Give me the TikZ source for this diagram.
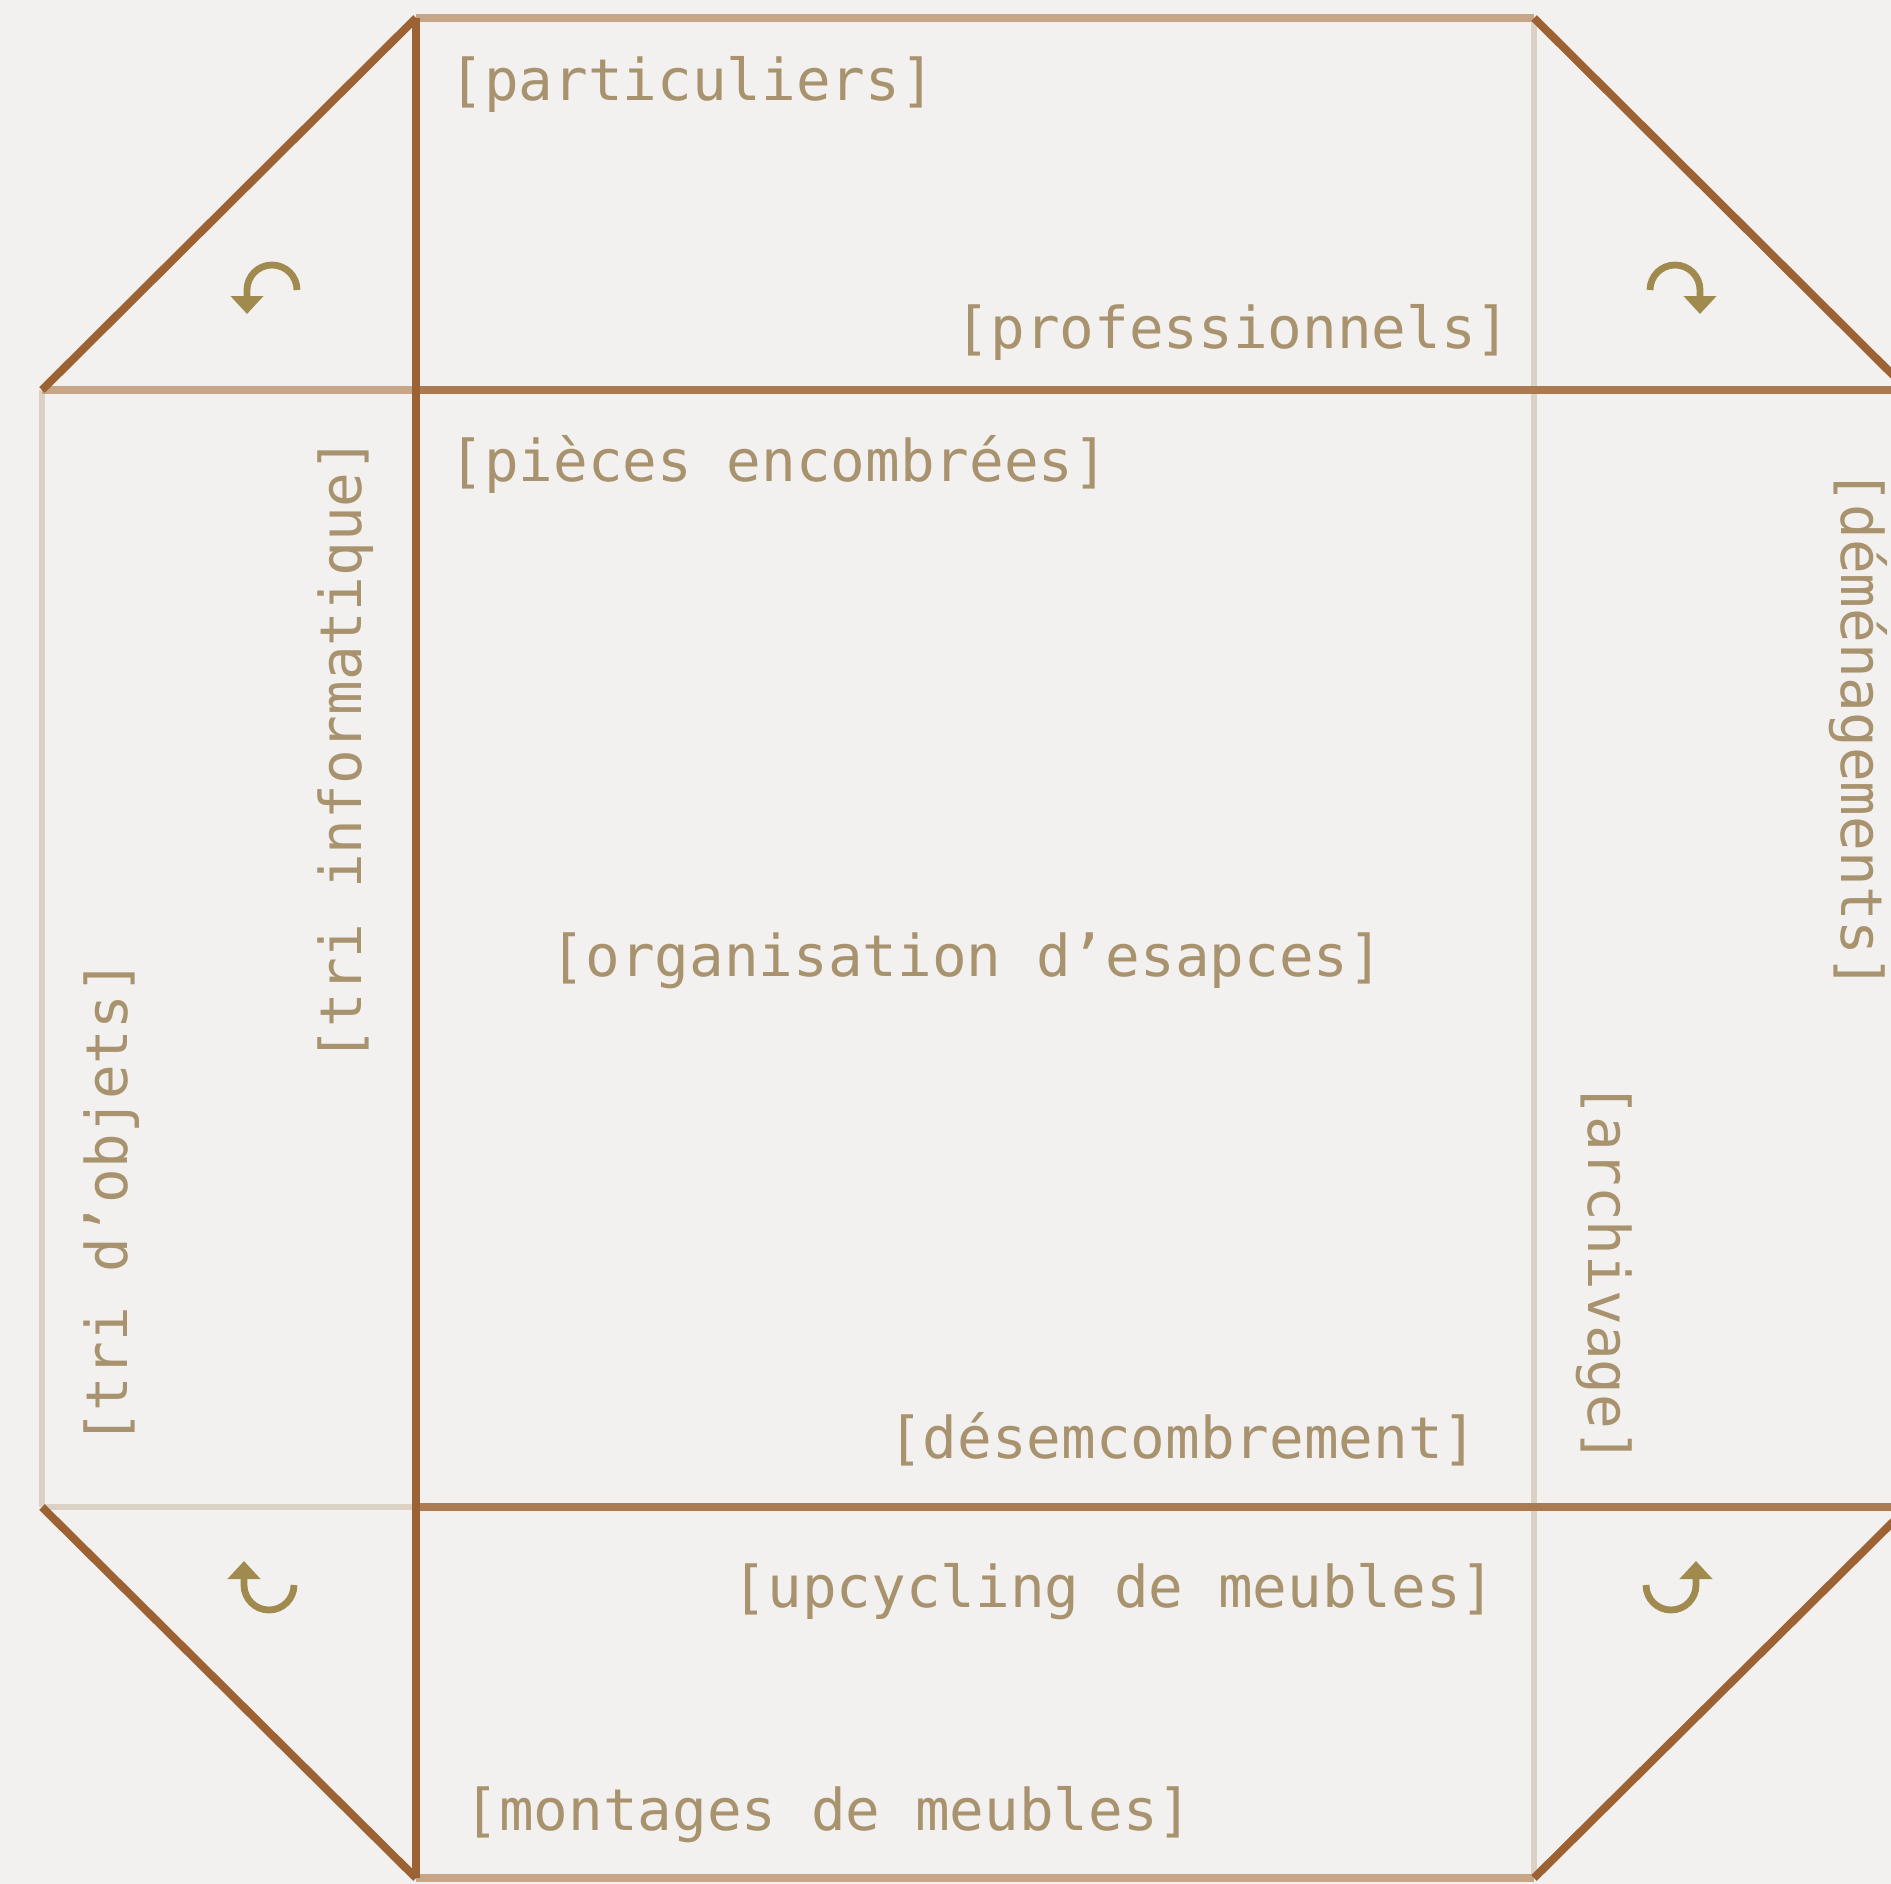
\documentclass[tikz,border=0pt]{standalone}
\usepackage{fontspec}
\setmonofont{DejaVu Sans Mono}
\usetikzlibrary{arrows.meta}
\definecolor{bgc}{HTML}{F2F1EF}
\definecolor{darkline}{HTML}{9C6234}
\definecolor{midline}{HTML}{AC7A50}
\definecolor{tanline}{HTML}{C6A686}
\definecolor{lightline}{HTML}{DCD1C5}
\definecolor{txt}{HTML}{A8936E}
\definecolor{arrowc}{HTML}{A08A4E}
\tikzset{
  darkstroke/.style={draw=darkline, line width=4pt},
  midstroke/.style={draw=midline, line width=3.8pt},
  tanstroke/.style={draw=tanline, line width=3.6pt},
  lightstroke/.style={draw=lightline, line width=3.4pt},
  lbl/.style={text=txt, inner sep=0pt, font=\ttfamily\fontsize{28.8pt}{34pt}\selectfont},
  turnarrow/.style={draw=arrowc, line width=3.4pt, -{Triangle[width=16pt,length=9pt]}},
}
\begin{document}
\begin{tikzpicture}[x=0.5pt,y=-0.5pt]
\fill[bgc] (0,0) rectangle (1891,1884);
\useasboundingbox (0,0) rectangle (1891,1884);
\clip (0,0) rectangle (1891,1884);

% corner points
\coordinate (A) at (416,18);
\coordinate (B) at (1534,18);
\coordinate (L1) at (42,390);
\coordinate (A1) at (416,390);
\coordinate (R1) at (1908,390);
\coordinate (L2) at (42,1507);
\coordinate (A2) at (416,1507);
\coordinate (R2) at (1908,1507);
\coordinate (C) at (416,1878);
\coordinate (D) at (1534,1878);

% light lines
\draw[lightstroke] (B) -- (D);
\draw[lightstroke] (L1) -- (L2);
\draw[lightstroke] (L2) -- (A2);
% tan edges
\draw[tanstroke] (A) -- (B);
\draw[tanstroke] (C) -- (D);
\draw[tanstroke] (L1) -- (A1);
% medium horizontals
\draw[midstroke] (A1) -- (R1);
\draw[midstroke] (A2) -- (R2);
% dark lines
\draw[darkstroke] (A) -- (C);
\draw[darkstroke] (L1) -- (A);
\draw[darkstroke] (B) -- (R1);
\draw[darkstroke] (L2) -- (C);
\draw[darkstroke] (D) -- (R2);

% turning arrows
\draw[turnarrow] (297,290) arc[start angle=0, end angle=-180, radius=25] -- ++(0,24);
\draw[turnarrow] (1650,290) arc[start angle=180, end angle=360, radius=25] -- ++(0,24);
\draw[turnarrow] (294,1585) arc[start angle=0, end angle=180, radius=25] -- ++(0,-24);
\draw[turnarrow] (1646,1585) arc[start angle=180, end angle=0, radius=25] -- ++(0,-24);

% labels
\node[lbl, anchor=west] (part) at (449,84) {[particuliers]};
\node[lbl, anchor=east] (prof) at (1511,332) {[professionnels]};
\node[lbl, anchor=west] (pieces) at (449,464) {[pièces encombrées]};
\node[lbl] (orga) at (967,961) {[organisation d’esapces]};
\node[lbl, anchor=east] (desem) at (1478,1439) {[désemcombrement]};
\node[lbl, anchor=east] (upcy) at (1496,1592) {[upcycling de meubles]};
\node[lbl, anchor=west] (mont) at (464,1815) {[montages de meubles]};
\node[lbl, rotate=90] (info) at (346,750) {[tri informatique]};
\node[lbl, rotate=90] (objets) at (112,1203) {[tri d’objets]};
\node[lbl, rotate=-90] (archi) at (1604,1273) {[archivage]};
\node[lbl, rotate=-90] (demen) at (1858,730) {[déménagements]};
\end{tikzpicture}
\end{document}
